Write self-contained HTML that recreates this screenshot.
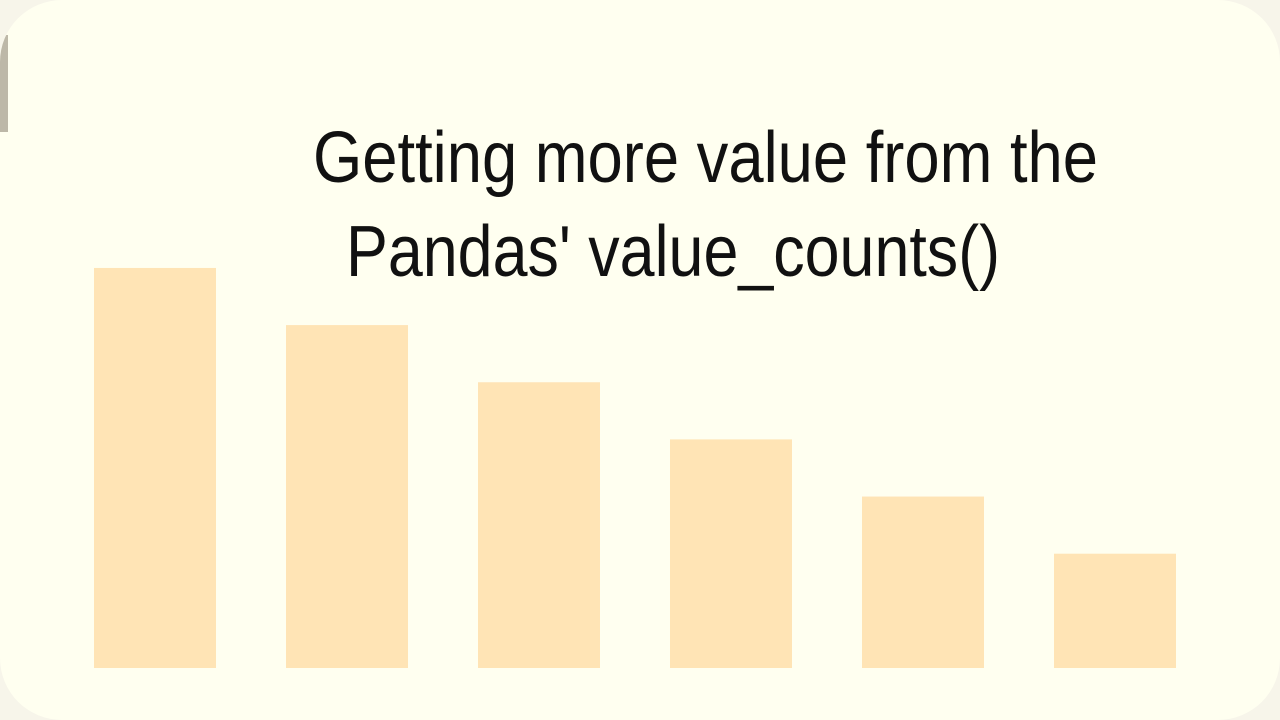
<!DOCTYPE html>
<html><head><meta charset="utf-8"><style>
html,body{margin:0;padding:0;background:#f7f5ea;}
#card{position:absolute;left:0;top:0;width:1280px;height:720px;background:#fffff0;border-radius:62px;overflow:hidden;}
#strip{position:absolute;left:0;top:35px;width:8px;height:97px;background:#bdb8a8;}
svg{position:absolute;left:0;top:0;}
</style></head><body>
<div id="card">
<div id="strip"></div>
<svg id="chart" width="1280" height="720">
<text x="313" y="182" textLength="785" lengthAdjust="spacingAndGlyphs" font-family="'Liberation Sans Narrow','Liberation Sans',sans-serif" font-size="72" fill="#111">Getting more value from the</text>
<text x="346" y="276" textLength="654" lengthAdjust="spacingAndGlyphs" font-family="'Liberation Sans Narrow','Liberation Sans',sans-serif" font-size="72" fill="#111">Pandas' value_counts()</text>
</svg>
</div>
<script>
const categories = ['a','b','c','d','e','f'];
const values = [7, 6, 5, 4, 3, 2];
const svg = document.getElementById('chart');
const x0 = 94, step = 192, barW = 122, baseY = 668, unit = 57.15;
const xScale = i => x0 + i * step;
const yScale = v => baseY - v * unit;
values.forEach((v, i) => {
  const r = document.createElementNS('http://www.w3.org/2000/svg', 'rect');
  r.setAttribute('x', xScale(i));
  r.setAttribute('y', yScale(v));
  r.setAttribute('width', barW);
  r.setAttribute('height', baseY - yScale(v));
  r.setAttribute('fill', '#ffe4b5');
  
  
  svg.insertBefore(r, svg.firstChild);
});
</script>
</body></html>
